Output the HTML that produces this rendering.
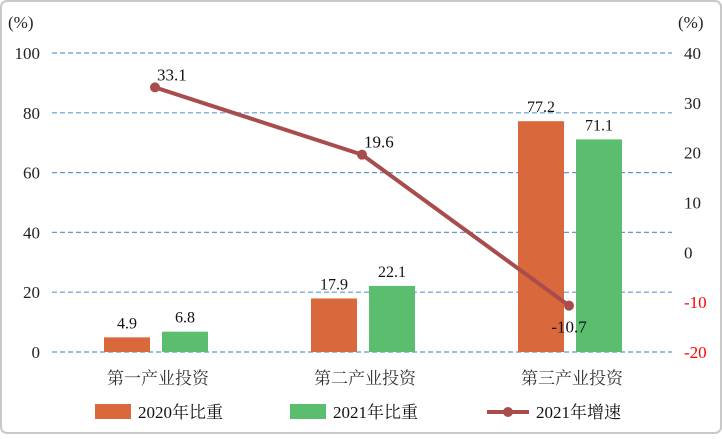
<!DOCTYPE html>
<html><head><meta charset="utf-8"><style>
body{margin:0;background:#fff}
svg text{font-family:"Liberation Serif","Noto Serif CJK SC",serif}
</style></head><body>
<svg id="c" width="722" height="434" viewBox="0 0 722 434">
<rect x="1" y="1" width="720" height="432" rx="6" fill="#fff" stroke="#c8c8c8" stroke-width="2"/>
<g id="grid"></g><g id="bars"></g><g id="line"></g><g id="axes"></g><g id="legend"></g>
</svg>
<script>
const categories=["第一产业投资","第二产业投资","第三产业投资"];
const share2020=[4.9,17.9,77.2];
const share2021=[6.8,22.1,71.1];
const growth2021=[33.1,19.6,-10.7];
const leftTicks=[0,20,40,60,80,100];
const rightTicks=[-20,-10,0,10,20,30,40];
const NS="http://www.w3.org/2000/svg";
const plotTop=53,plotBot=352,gx0=52,gx1=672;
const yL=v=>plotBot-(v/100)*(plotBot-plotTop);
const yR=v=>plotTop+(40-v)/60*(plotBot-plotTop);
const xC=i=>156+i*207;
function mk(p,t,a,txt){const e=document.createElementNS(NS,t);for(const k in a)e.setAttribute(k,a[k]);if(txt!=null)e.textContent=txt;document.getElementById(p).appendChild(e);return e;}
leftTicks.forEach(v=>{
 let g=mk('grid','line',{x1:gx0,x2:gx1,y1:yL(v),y2:yL(v),stroke:'#5b9bd5','stroke-width':1.2,'stroke-dasharray':'5,3'});
 
 
 let t=mk('axes','text',{x:40,y:yL(v)+6,'text-anchor':'end','font-size':17,fill:'#222'},v);
 
 
});
rightTicks.forEach(v=>{
 let t=mk('axes','text',{x:684,y:yR(v)+6,'font-size':17,fill:v<0?'#f00':'#222'},v);
 
 
});
let a=mk('axes','text',{x:8,y:28,'font-size':17,fill:'#222'},'(%)');


a=mk('axes','text',{x:678,y:28,'font-size':17,fill:'#222'},'(%)');


const bw=46;
categories.forEach((c,i)=>{
 const cx=xC(i);
 let b=mk('bars','rect',{x:cx-52,y:yL(share2020[i]),width:bw,height:plotBot-yL(share2020[i]),fill:'#d9683c'});
 
 
 let t=mk('bars','text',{x:cx-29,y:yL(share2020[i])-9,'text-anchor':'middle','font-size':16,fill:'#111'},share2020[i]);
 
 
 b=mk('bars','rect',{x:cx+6,y:yL(share2021[i]),width:bw,height:plotBot-yL(share2021[i]),fill:'#5bbd6e'});
 
 
 t=mk('bars','text',{x:cx+29,y:yL(share2021[i])-9,'text-anchor':'middle','font-size':16,fill:'#111'},share2021[i]);
 
 
 t=mk('axes','text',{x:cx+2,y:384,'text-anchor':'middle','font-size':17,fill:'#333'},c);
 
 
});
const pts=growth2021.map((v,i)=>[xC(i)-1,yR(v)]);
let pl=mk('line','polyline',{points:pts.map(p=>p.join(',')).join(' '),fill:'none',stroke:'#a94c4c','stroke-width':4});


pts.forEach((p,i)=>{
 let d=mk('line','circle',{cx:p[0],cy:p[1],r:5,fill:'#a94c4c'});
 
 
 const neg=growth2021[i]<0;
 let t=mk('line','text',{x:neg?p[0]:p[0]+2,y:neg?p[1]+27:p[1]-7,'text-anchor':neg?'middle':'start','font-size':17,fill:'#111'},growth2021[i]);
 
 
});
let l=mk('legend','rect',{x:95,y:404,width:36,height:15,fill:'#d9683c'});


l=mk('legend','text',{x:138,y:418,'font-size':17,fill:'#111'},'2020年比重');


l=mk('legend','rect',{x:290,y:404,width:36,height:15,fill:'#5bbd6e'});


l=mk('legend','text',{x:333,y:418,'font-size':17,fill:'#111'},'2021年比重');


l=mk('legend','line',{x1:487,x2:529,y1:412,y2:412,stroke:'#a94c4c','stroke-width':4});


l=mk('legend','circle',{cx:508,cy:412,r:5,fill:'#a94c4c'});


l=mk('legend','text',{x:536,y:418,'font-size':17,fill:'#111'},'2021年增速');


</script>
</body></html>
